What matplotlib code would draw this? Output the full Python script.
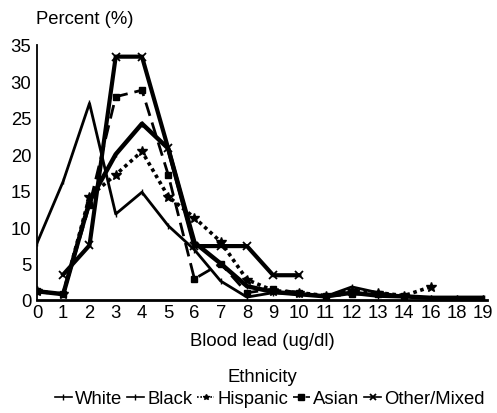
import matplotlib
matplotlib.use("Agg")
import matplotlib.pyplot as plt

plt.rcParams['font.family'] = ['Liberation Sans', 'DejaVu Sans']

categories = ["0", "1", "2", "3", "4", "5", "6", "7", "8", "9", "10",
              "11", "12", "13", "14", "16", "18", "19"]

white = [7.8, 16.3, 27.0, 11.8, 14.8, 10.2, 6.9, 2.6, 0.4, 1.0, 0.8,
         0.5, 1.8, 1.0, 0.5, 0.3, 0.3, 0.3]
black = [1.2, 0.8, 13.5, 20.0, 24.2, 20.8, 7.9, 5.0, 1.9, 1.1, 0.8,
         0.5, 1.0, 0.6, 0.5, 0.3, 0.3, 0.3]
hispanic = [1.2, 0.8, 14.2, 17.2, 20.4, 14.2, 11.3, 8.0, 2.8, 1.3, 1.0,
            0.6, 1.3, 1.0, 0.6, 1.8]
asian = [1.2, 0.8, 13.0, 27.9, 28.8, 17.2, 2.9, 5.0, 1.0, 1.5, 1.0,
         0.5, 0.8, 0.8, 0.5]
other = [None, 3.5, 7.5, 33.4, 33.4, 20.8, 7.4, 7.4, 7.4, 3.4, 3.4]

yticks = [0, 5, 10, 15, 20, 25, 30, 35]

FS = 13.3

fig = plt.figure(figsize=(4.97, 4.14), dpi=100)
ax = fig.add_axes([37/497, 113/414, 450/497, 255/414])

def idx(vals):
    xs, ys = [], []
    for i, v in enumerate(vals):
        if v is not None:
            xs.append(i)
            ys.append(v)
    return xs, ys

k = 'k'
x, y = idx(white)
ax.plot(x, y, color=k, lw=2.0, marker='|', ms=4, mew=1, label='White')
x, y = idx(black)
ax.plot(x, y, color=k, lw=3.2, marker='|', ms=4, mew=1, label='Black')
x, y = idx(hispanic)
ax.plot(x, y, color=k, lw=2.6, ls=(0, (1, 1)), marker='*', ms=7, label='Hispanic')
x, y = idx(asian)
ax.plot(x, y, color=k, lw=2.0, ls=(0, (5, 2.5)), marker='s', ms=4, label='Asian')
x, y = idx(other)
ax.plot(x, y, color=k, lw=3.0, marker='x', ms=6, mew=1.3, label='Other/Mixed')

ax.set_xlim(0, 17.15)
ax.set_ylim(0, 35)
ax.set_xticks(range(len(categories)))
ax.set_xticklabels(categories)
ax.set_yticks(yticks)
ax.tick_params(axis='both', length=0, labelsize=FS)
ax.tick_params(axis='x', pad=3)
ax.tick_params(axis='y', pad=4)
for s in ['top', 'right']:
    ax.spines[s].set_visible(False)
ax.spines['left'].set_linewidth(1.3)
ax.spines['bottom'].set_linewidth(2.0)

ax.set_xlabel("Blood lead (ug/dl)", fontsize=FS, labelpad=8)
fig.text(36/497, 1 - 19/414, "Percent (%)", fontsize=FS, va='center', ha='left')
fig.text(262/497, 1 - 378/414, "Ethnicity", fontsize=FS, va='center', ha='center')

handles, labels = ax.get_legend_handles_labels()
leg = fig.legend(handles, labels, loc='center', bbox_to_anchor=(270/497, 1 - 400/414),
                 ncol=5, frameon=False, fontsize=FS, handlelength=0.9,
                 handletextpad=0.2, columnspacing=0.25, borderpad=0)
for h in leg.legend_handles:
    h.set_linewidth(1.2)
    h.set_markersize(4)

fig.savefig("out.png", dpi=100)
